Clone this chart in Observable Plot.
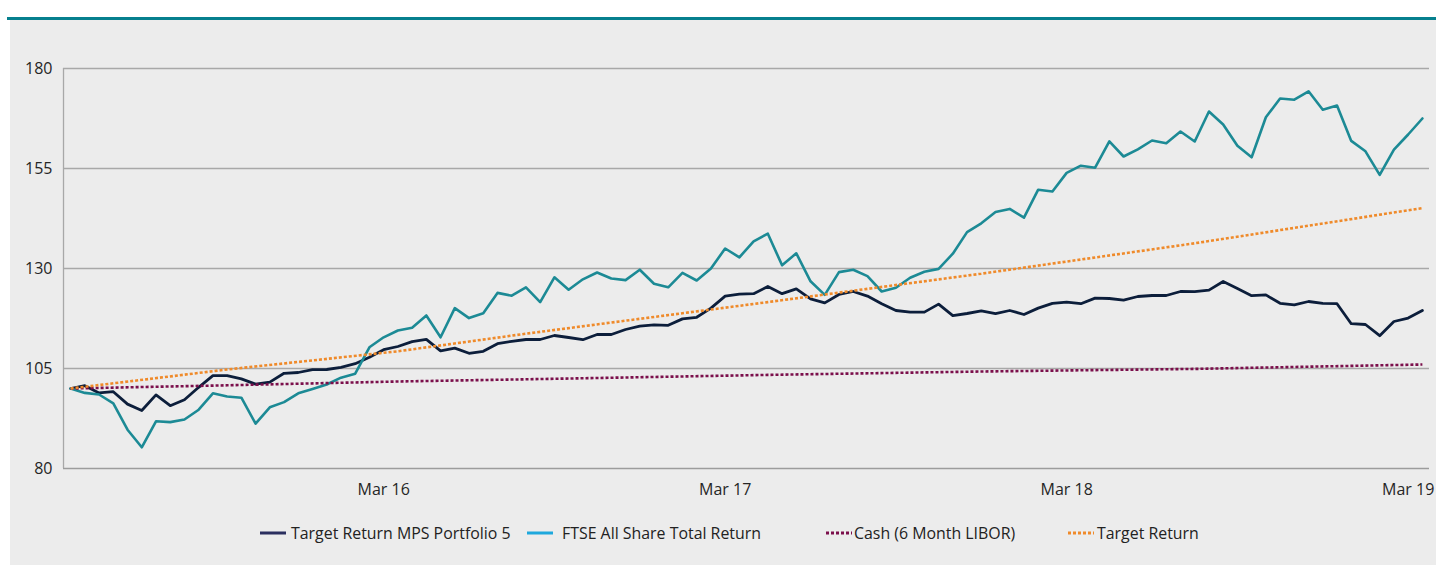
<!DOCTYPE html>
<html><head><meta charset="utf-8">
<script src="https://cdn.jsdelivr.net/npm/d3@7"></script>
<script src="https://cdn.jsdelivr.net/npm/@observablehq/plot@0.6"></script>
<style>
body{margin:0;background:#fff;font-family:"Open Sans",sans-serif;}
#wrap{position:relative;width:1436px;height:569px;overflow:hidden;}
#rule{position:absolute;left:7px;top:17px;width:1429px;height:3px;background:#06808e;}
#panel{position:absolute;left:10px;top:20px;width:1426px;height:545px;background:#ececec;}
#chart{position:absolute;left:0;top:0;}
.lg{position:absolute;top:502px;height:22px;line-height:22px;font-size:15.9px;color:#222;white-space:nowrap;}
.sw{position:absolute;top:503px;}
</style></head>
<body>
<div id="wrap"><div id="rule"></div><div id="panel"><div id="chart"></div><div id="legend"></div></div></div>
<script>
// Semi-monthly observations, Apr 2015 – Mar 2019 (index 0..95)
const ftse = [100, 98.9, 98.5, 96.3, 89.7, 85.3, 91.8, 91.6, 92.25, 94.7,
  98.8, 98, 97.7, 91.2, 95.3, 96.6, 98.8, 99.9, 101, 102.7,
  103.7, 110.3, 112.8, 114.5, 115.2, 118.25, 112.8, 120.1, 117.6, 118.8,
  123.9, 123.2, 125.3, 121.6, 127.8, 124.7, 127.3, 129, 127.5, 127.1,
  129.7, 126.2, 125.3, 128.9, 127, 130, 135, 132.8, 136.8, 138.7,
  130.8, 133.8, 126.8, 123.4, 129.1, 129.7, 128.1, 124.25, 125.2, 127.7,
  129.2, 129.9, 133.7, 139.1, 141.3, 144.1, 144.9, 142.7, 149.7, 149.25,
  153.9, 155.7, 155.2, 161.8, 158, 159.8, 162, 161.3, 164.25, 161.75,
  169.25, 166, 160.7, 157.8, 167.8, 172.5, 172.2, 174.3, 169.7, 170.75,
  161.9, 159.3, 153.4, 159.7, 163.5, 167.5];
const portfolio = [100, 100.7, 98.9, 99.2, 96.1, 94.5, 98.4, 95.7, 97.2, 100.3,
  103.2, 103.2, 102.4, 101.1, 101.6, 103.8, 104, 104.7, 104.75, 105.3,
  106.2, 107.8, 109.7, 110.5, 111.7, 112.3, 109.4, 110.1, 108.8, 109.3,
  111.2, 111.8, 112.25, 112.25, 113.25, 112.75, 112.2, 113.5, 113.5, 114.75,
  115.6, 115.9, 115.8, 117.4, 117.8, 120.1, 123.1, 123.6, 123.7, 125.5,
  123.7, 124.9, 122.4, 121.4, 123.5, 124.25, 123.1, 121.2, 119.5, 119.1,
  119.1, 121.1, 118.2, 118.75, 119.4, 118.7, 119.5, 118.5, 120.1, 121.3,
  121.6, 121.2, 122.6, 122.5, 122.1, 123, 123.25, 123.25, 124.25, 124.2,
  124.6, 126.75, 125, 123.2, 123.4, 121.3, 120.9, 121.75, 121.3, 121.2,
  116.2, 116, 113.2, 116.75, 117.6, 119.5];
const cashIdx = [0, 11, 23, 32, 49, 64, 79, 95];
const cash = [100, 100.8, 101.75, 102.3, 103.4, 104.25, 104.9, 106.0];
const targetIdx = [0, 11, 23, 32, 49, 64, 79, 95];
const target = [100, 104.75, 109.3, 113.7, 121.6, 128.7, 136.3, 145.1];
const xTickIdx = [22, 46, 70, 94];
const xTickLabels = ["Mar 16", "Mar 17", "Mar 18", "Mar 19"];
const yTicks = [80, 105, 130, 155, 180];
const seriesNames = ["Target Return MPS Portfolio 5", "FTSE All Share Total Return", "Cash (6 Month LIBOR)", "Target Return"];

const ftseRows = ftse.map((v, i) => ({i, v}));
const portRows = portfolio.map((v, i) => ({i, v}));
const cashRows = cash.map((v, k) => ({i: cashIdx[k], v}));
const targetRows = target.map((v, k) => ({i: targetIdx[k], v}));

const dotted = {strokeWidth: 2.6, strokeDasharray: "3,2", strokeLinecap: "butt", strokeLinejoin: "miter"};

const plot = Plot.plot({
  width: 1426, height: 500,
  marginLeft: 53, marginRight: 7, marginTop: 48, marginBottom: 52,
  style: {fontFamily: "'Open Sans', sans-serif", fontSize: "16px", color: "#262626", background: "transparent", overflow: "visible"},
  x: {domain: [-0.5, 95.5], axis: null},
  y: {domain: [80, 180], axis: null},
  marks: [
    Plot.ruleY(yTicks.slice(1), {stroke: "#a8a8a8", strokeWidth: 1.3}),
    Plot.ruleY([80], {stroke: "#9c9c9c", strokeWidth: 1.5}),
    Plot.ruleX([-0.5], {y1: 80, y2: 180, stroke: "#a8a8a8", strokeWidth: 1.3}),
    Plot.axisY({ticks: yTicks, tickSize: 0, tickPadding: 11, fontSize: 16, label: null}),
    Plot.axisX({ticks: xTickIdx, tickSize: 0, tickPadding: 15, fontSize: 16, label: null,
      tickFormat: d => xTickLabels[xTickIdx.indexOf(d)]}),
    Plot.line(portRows, {x: "i", y: "v", stroke: "#0c1e3b", strokeWidth: 2.8}),
    Plot.line(ftseRows, {x: "i", y: "v", stroke: "#1c8a95", strokeWidth: 2.6}),
    Plot.line(cashRows, {x: "i", y: "v", stroke: "#7b0f4b", ...dotted}),
    Plot.line(targetRows, {x: "i", y: "v", stroke: "#ef8a2a", ...dotted})
  ]
});
document.getElementById("chart").appendChild(plot);

// Legend
const legendItems = [
  {name: seriesNames[0], color: "#2b2f5f", dash: null, sx: 250, tx: 281},
  {name: seriesNames[1], color: "#1ea8dd", dash: null, sx: 517, tx: 552},
  {name: seriesNames[2], color: "#7b0f4b", dash: "3,2", sx: 816, tx: 844},
  {name: seriesNames[3], color: "#ef8a2a", dash: "3,2", sx: 1058, tx: 1087}
];
const lg = document.getElementById("legend");
for (const it of legendItems) {
  const sw = document.createElementNS("http://www.w3.org/2000/svg", "svg");
  sw.setAttribute("class", "sw");
  sw.setAttribute("width", 26); sw.setAttribute("height", 20);
  sw.style.left = it.sx + "px";
  sw.innerHTML = `<line x1="0" x2="26" y1="10" y2="10" stroke="${it.color}" stroke-width="3" ${it.dash ? `stroke-dasharray="${it.dash}"` : ""}/>`;
  lg.appendChild(sw);
  const t = document.createElement("div");
  t.className = "lg"; t.style.left = it.tx + "px"; t.textContent = it.name;
  lg.appendChild(t);
}
</script>
</body></html>
